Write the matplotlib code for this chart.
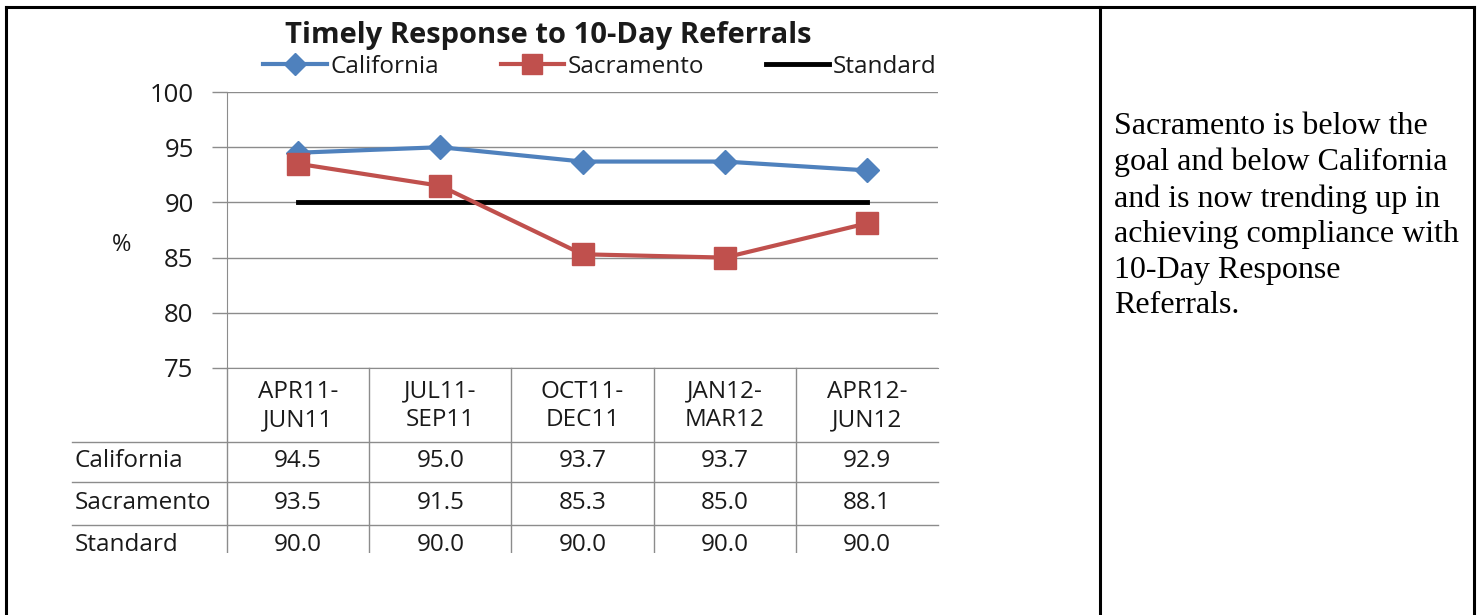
import matplotlib
matplotlib.use("Agg")
import matplotlib.pyplot as plt
from matplotlib.lines import Line2D
from matplotlib.transforms import blended_transform_factory
from matplotlib.patches import Rectangle

categories = ["APR11-\nJUN11", "JUL11-\nSEP11", "OCT11-\nDEC11", "JAN12-\nMAR12", "APR12-\nJUN12"]
california = [94.5, 95.0, 93.7, 93.7, 92.9]
sacramento = [93.5, 91.5, 85.3, 85.0, 88.1]
standard = [90.0, 90.0, 90.0, 90.0, 90.0]
series_names = ["California", "Sacramento", "Standard"]
yticks = [75, 80, 85, 90, 95, 100]
title = "Timely Response to 10-Day Referrals"
note = ("Sacramento is below the\ngoal and below California\nand is now trending up in\n"
        "achieving compliance with\n10-Day Response\nReferrals.")

W, H = 1481, 615
fig = plt.figure(figsize=(W / 100, H / 100), dpi=100)
sans = ["Open Sans", "DejaVu Sans"]
txt_c = "#1a1a1a"
fs_tab = 17.5

def fx(px):
    return px / W

def fy(py):
    return 1 - py / H

ax = fig.add_axes([fx(227), fy(368), fx(938) - fx(227), (368 - 92) / H])
xs = list(range(len(categories)))
blue, red = "#4F81BD", "#C0504D"
grid_c = "#8C8C8C"

ax.plot(xs, california, color=blue, lw=3, marker="D", ms=12, zorder=4, label=series_names[0])
ax.plot(xs, sacramento, color=red, lw=3, marker="s", ms=16, zorder=4, label=series_names[1])
ax.plot(xs, standard, color="black", lw=3.5, zorder=3, label=series_names[2])

ax.set_xlim(-0.5, len(categories) - 0.5)
ax.set_ylim(75, 100)
ax.set_yticks(yticks)
ax.set_xticks([])
ax.yaxis.grid(True, color=grid_c, lw=1)
ax.set_axisbelow(True)
for s in ["top", "right"]:
    ax.spines[s].set_visible(False)
ax.spines["left"].set_color(grid_c)
ax.spines["bottom"].set_color(grid_c)
ax.tick_params(axis="y", length=11, color=grid_c, width=1, labelsize=18.5, pad=13)
for lab in ax.get_yticklabels():
    lab.set_family(sans)
    lab.set_color(txt_c)

fig.text(fx(122), fy(245), "%", fontsize=17, family=sans, ha="center", va="center", color=txt_c)
fig.text(fx(548), fy(35), title, fontsize=21, fontweight="bold", family=sans, ha="center",
         va="center", color=txt_c)

leg = fig.legend(loc="center", bbox_to_anchor=(fx(600), fy(67)), ncol=3, frameon=False,
                 prop={"family": sans, "size": 17.5}, handlelength=2.6, handletextpad=0.15,
                 columnspacing=2.55, markerscale=0.9, labelcolor=txt_c)

# table
tx = blended_transform_factory(ax.transData, fig.transFigure)
row_lines = [442, 482, 525]
col_edges = [i - 0.5 for i in range(len(categories))]
for ry in row_lines:
    fig.add_artist(Line2D([fx(72), fx(938)], [fy(ry), fy(ry)], color=grid_c, lw=1))
for ce in col_edges:
    fig.add_artist(Line2D([ce, ce], [fy(368), fy(553)], color=grid_c, lw=1, transform=tx))

for i, c in enumerate(categories):
    fig.text(i, fy(406), c, transform=tx, ha="center", va="center", fontsize=fs_tab,
             family=sans, linespacing=1.25, color=txt_c)

rows = [california, sacramento, standard]
row_y = [461, 503, 545]
for name, vals, ry in zip(series_names, rows, row_y):
    fig.text(fx(75), fy(ry), name, ha="left", va="center", fontsize=fs_tab, family=sans, color=txt_c)
    for i, v in enumerate(vals):
        fig.text(i, fy(ry), f"{v:.1f}", transform=tx, ha="center", va="center",
                 fontsize=fs_tab, family=sans, color=txt_c)

# clip the chart image bottom
fig.add_artist(Rectangle((fx(8), 0), fx(1098) - fx(8), fy(553), transform=fig.transFigure,
                         facecolor="white", edgecolor="none", zorder=10))

# page table borders
bk = dict(color="black", lw=2.2, zorder=11)
fig.add_artist(Line2D([fx(6), fx(1474)], [fy(7), fy(7)], **bk))
fig.add_artist(Line2D([fx(6), fx(6)], [fy(7), 0], **bk))
fig.add_artist(Line2D([fx(1100), fx(1100)], [fy(7), 0], **bk))
fig.add_artist(Line2D([fx(1474), fx(1474)], [fy(7), 0], **bk))

fig.text(fx(1114), fy(112), note, ha="left", va="top", fontsize=23,
         family="Liberation Serif", linespacing=1.3, color="black")

fig.savefig("out.png", dpi=100)
